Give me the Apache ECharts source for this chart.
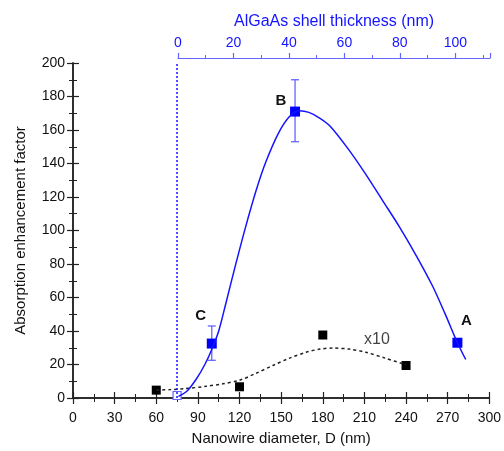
<!DOCTYPE html>
<html>
<head>
<meta charset="utf-8">
<script src="https://cdn.jsdelivr.net/npm/echarts@6/dist/echarts.min.js"></script>
<style>
  html, body { margin: 0; padding: 0; background: #fff; }
  #chart { width: 504px; height: 451px; }
</style>
</head>
<body>
<div id="chart"></div>
<script>
// measured points (D in nm, enhancement factor)
var bluePoints = [[100, 32.5], [160, 171], [277, 33]];
var blueNames = ['C', 'B', 'A'];
var blueErrors = [[100, 22.5, 43], [160, 153, 190]];
var hollowPoint = [[75, 1.5]];
var blackPoints = [[60, 4.7], [120, 6.7], [180, 37.6], [240, 19.4]];

// fitted curves
var blueFit = [[76, 1], [82, 4], [89, 11.5], [95, 20], [100, 29], [105, 40], [110, 56], [117, 79],
  [124, 101], [132, 124], [139, 141], [148, 158], [156, 168], [163, 171.5], [170, 170.5],
  [178, 167], [185, 162.5], [198, 149], [211, 133.5], [223, 118], [235, 102.5], [247, 85.5],
  [259, 67], [268, 50.5], [277, 33], [283, 23]];
var blackFit = [[60, 4.7], [70, 5], [80, 5.5], [96, 7], [108, 8.5], [120, 10.6], [132, 14.8],
  [144, 19.4], [156, 23.8], [168, 27.3], [178, 29.2], [187, 29.8], [199, 29.2], [211, 27.3],
  [225, 23.8], [240, 19.8]];

var coreD = 75;
var x10Pos = [219, 34.7];

var font = 'Liberation Sans, Arial, sans-serif';
var blue = '#1414ff';
var lightBlue = '#6464ff';

function lblOffset(name) {
  if (name === 'A') return [9, -22];
  if (name === 'B') return [-14, -11];
  return [-11, -28];
}

var myChart = echarts.init(document.getElementById('chart'));

// unlabelled frame axes carry the inward ticks
var frameAxis = {
  axisLine: { show: true, lineStyle: { color: '#222', width: 1.5 } },
  axisTick: { show: true, inside: true, length: 6, lineStyle: { color: '#222', width: 1.2 } },
  minorTick: { show: true, splitNumber: 2, length: 4, lineStyle: { color: '#222', width: 1 } },
  splitLine: { show: false },
  axisLabel: { show: false }
};
// labelled axes: text only
var labelAxis = {
  axisLine: { show: false },
  axisTick: { show: false },
  minorTick: { show: false },
  splitLine: { show: false }
};

var option = {
  backgroundColor: '#fff',
  animation: false,
  textStyle: { fontFamily: font },
  grid: [
    { left: 73, right: 14, top: 63, bottom: 48 },
    { left: 178, right: 14, top: 57, height: 1 }
  ],
  xAxis: [
    Object.assign({}, labelAxis, {
      type: 'value', gridIndex: 0, position: 'bottom', min: 0, max: 300, interval: 30,
      name: 'Nanowire diameter, D (nm)', nameLocation: 'middle', nameGap: 33,
      nameTextStyle: { fontSize: 15, color: '#111', fontFamily: font },
      axisLabel: { show: true, fontSize: 14, color: '#111', margin: 13, fontFamily: font }
    }),
    Object.assign({}, frameAxis, {
      type: 'value', gridIndex: 0, position: 'top', min: 0, max: 300, interval: 30
    }),
    {
      type: 'value', gridIndex: 1, position: 'top', min: 0, max: 112.5, interval: 20,
      name: 'AlGaAs shell thickness (nm)', nameLocation: 'middle', nameGap: 27,
      nameTextStyle: { fontSize: 16, color: blue, fontFamily: font },
      axisLine: { show: true, lineStyle: { color: lightBlue, width: 1.2 } },
      axisTick: { show: true, inside: false, length: 5, lineStyle: { color: lightBlue, width: 1.2 } },
      minorTick: { show: true, splitNumber: 2, length: 3, lineStyle: { color: lightBlue, width: 1 } },
      splitLine: { show: false },
      axisLabel: { show: true, fontSize: 14, color: blue, margin: 7, showMaxLabel: false, fontFamily: font }
    },
    Object.assign({}, frameAxis, {
      type: 'value', gridIndex: 0, position: 'bottom', min: 0, max: 300, interval: 30
    })
  ],
  yAxis: [
    Object.assign({}, labelAxis, {
      type: 'value', gridIndex: 0, position: 'left', min: 0, max: 200, interval: 20,
      name: 'Absorption enhancement factor', nameLocation: 'middle', nameGap: 45,
      nameTextStyle: { fontSize: 15, color: '#111', fontFamily: font },
      axisLabel: { show: true, fontSize: 14, color: '#111', margin: 8, fontFamily: font }
    }),
    Object.assign({}, frameAxis, {
      type: 'value', gridIndex: 0, position: 'right', min: 0, max: 200, interval: 20
    }),
    { type: 'value', gridIndex: 1, show: false, min: 0, max: 1 },
    Object.assign({}, frameAxis, {
      type: 'value', gridIndex: 0, position: 'left', min: 0, max: 200, interval: 20
    })
  ],
  series: [
    {
      type: 'line', xAxisIndex: 0, yAxisIndex: 0, data: blackFit, smooth: 0.3,
      showSymbol: false, silent: true,
      lineStyle: { color: '#222', width: 1.5, type: [3, 3] }
    },
    {
      type: 'line', xAxisIndex: 0, yAxisIndex: 0, data: blueFit, smooth: 0.3,
      showSymbol: false, silent: true,
      lineStyle: { color: blue, width: 1.5 },
      markLine: {
        silent: true, symbol: 'none', label: { show: false },
        lineStyle: { color: blue, width: 1.5, type: [2, 2] },
        data: [{ xAxis: coreD }]
      }
    },
    {
      type: 'custom', xAxisIndex: 0, yAxisIndex: 0, data: blueErrors,
      encode: { x: 0, y: [1, 2] },
      renderItem: function (params, api) {
        var x = api.value(0);
        var lo = api.coord([x, api.value(1)]);
        var hi = api.coord([x, api.value(2)]);
        var st = { stroke: lightBlue, lineWidth: 1.3 };
        return {
          type: 'group',
          children: [
            { type: 'line', shape: { x1: lo[0], y1: lo[1], x2: hi[0], y2: hi[1] }, style: st },
            { type: 'line', shape: { x1: lo[0] - 4, y1: lo[1], x2: lo[0] + 4, y2: lo[1] }, style: st },
            { type: 'line', shape: { x1: hi[0] - 4, y1: hi[1], x2: hi[0] + 4, y2: hi[1] }, style: st }
          ]
        };
      }
    },
    {
      type: 'scatter', xAxisIndex: 0, yAxisIndex: 0, symbol: 'rect', symbolSize: 9,
      itemStyle: { color: '#000', opacity: 1 }, data: blackPoints
    },
    {
      type: 'scatter', xAxisIndex: 0, yAxisIndex: 0, symbol: 'rect', symbolSize: 8,
      itemStyle: { color: '#fff', borderColor: lightBlue, borderWidth: 1.2, opacity: 1 }, data: hollowPoint
    },
    {
      type: 'scatter', xAxisIndex: 0, yAxisIndex: 0, symbol: 'rect', symbolSize: 10,
      itemStyle: { color: '#0000ff', opacity: 1 },
      data: bluePoints.map(function (p, i) {
        return {
          value: p,
          label: {
            show: true, formatter: blueNames[i], position: 'inside', offset: lblOffset(blueNames[i]),
            fontSize: 15, fontWeight: 'bold', color: '#111', fontFamily: font
          }
        };
      })
    },
    {
      type: 'scatter', xAxisIndex: 0, yAxisIndex: 0, symbolSize: 0, silent: true,
      data: [x10Pos],
      label: { show: true, position: 'inside', formatter: 'x10', fontSize: 16, color: '#111', fontFamily: font }
    }
  ]
};

myChart.setOption(option);
</script>
</body>
</html>
